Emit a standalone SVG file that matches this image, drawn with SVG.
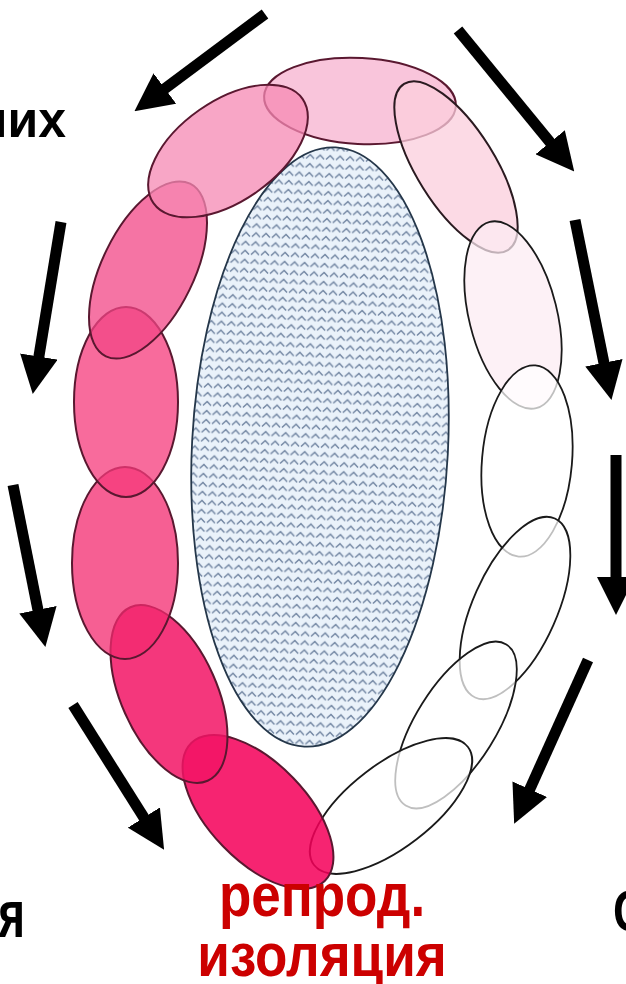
<svg xmlns="http://www.w3.org/2000/svg" width="626" height="984" viewBox="0 0 626 984">
<style>
.pk{stroke:#5a1830;stroke-width:2;fill-opacity:0.75}
.wh{fill:#ffffff;fill-opacity:0.72;stroke:#1a1a1a;stroke-width:1.8}
.arr{stroke:#000;stroke-width:11;fill:none;marker-end:url(#ah)}
.lbl{font-family:"Liberation Sans",Arial,sans-serif;font-weight:bold;fill:#000}
.red{font-family:"Liberation Sans",Arial,sans-serif;font-weight:bold;fill:#cc0000;font-size:53px}
</style>
<defs>
<marker id="ah" viewBox="0 0 38 38" refX="8" refY="19" markerWidth="38" markerHeight="38" markerUnits="userSpaceOnUse" orient="auto">
<path d="M0,0 L38,19 L0,38 Z" fill="#000"/>
</marker>
<pattern id="chev" width="10" height="9" patternUnits="userSpaceOnUse">
<rect width="10" height="9" fill="#eaf2fa"/>
<path d="M1,6.5 L5,2.5 L9,6.5" fill="none" stroke="#6f83a0" stroke-width="1.4"/>
</pattern>
</defs>
<rect width="626" height="984" fill="#fff"/>

<g id="center">
<ellipse cx="320" cy="447" rx="128" ry="300" transform="rotate(3 320 447)" fill="url(#chev)" stroke="#25374a" stroke-width="1.8"/>
</g>

<g id="e1"><ellipse class="pk" cx="360" cy="101" rx="96" ry="43" transform="rotate(3 360 101)" fill="#f7b2cf"/></g>
<g id="e2"><ellipse class="pk" cx="456" cy="167" rx="98" ry="39" transform="rotate(58 456 167)" fill="#fbcddc" style="stroke:#2a1a20"/></g>
<g id="e3"><ellipse class="wh" cx="513" cy="315" rx="96" ry="44" transform="rotate(76 513 315)" style="fill:#fcecf2"/></g>
<g id="e4"><ellipse class="wh" cx="527" cy="461" rx="96" ry="45" transform="rotate(95 527 461)"/></g>
<g id="e5"><ellipse class="wh" cx="515" cy="608" rx="98" ry="42" transform="rotate(114 515 608)"/></g>
<g id="e6"><ellipse class="wh" cx="456" cy="725" rx="95" ry="40" transform="rotate(122 456 725)"/></g>
<g id="e7"><ellipse class="wh" cx="391" cy="806" rx="97" ry="42" transform="rotate(142.5 391 806)"/></g>
<g id="e13"><ellipse class="pk" cx="258" cy="812" rx="96" ry="49" transform="rotate(46 258 812)" fill="#f4005a" style="fill-opacity:0.86"/></g>
<g id="e12"><ellipse class="pk" cx="169" cy="694" rx="95" ry="48" transform="rotate(66 169 694)" fill="#f21465" style="fill-opacity:0.85"/></g>
<g id="e11"><ellipse class="pk" cx="125" cy="563" rx="53" ry="96" fill="#f32a6f"/></g>
<g id="e10"><ellipse class="pk" cx="126" cy="402" rx="52" ry="95" fill="#f5397b"/></g>
<g id="e9"><ellipse class="pk" cx="148" cy="270" rx="96" ry="46" transform="rotate(116 148 270)" fill="#f24586"/></g>
<g id="e8"><ellipse class="pk" cx="228" cy="151" rx="91" ry="50" transform="rotate(-35 228 151)" fill="#f588b3"/></g>

<g id="connectors">
<line class="arr" x1="265" y1="14" x2="158.5" y2="93.3"/>
<line class="arr" x1="458" y1="30" x2="555.2" y2="148.4"/>
<line class="arr" x1="61" y1="222" x2="37.6" y2="364.4"/>
<line class="arr" x1="13" y1="485" x2="39.5" y2="617.6"/>
<line class="arr" x1="73" y1="705" x2="148.1" y2="824.3"/>
<line class="arr" x1="575" y1="220" x2="605.5" y2="370.6"/>
<line class="arr" x1="616" y1="455" x2="616" y2="585"/>
<line class="arr" x1="588" y1="660" x2="526.5" y2="796.5"/>
</g>

<g id="labels">
<text class="lbl" x="66" y="137" font-size="50" text-anchor="end">них</text>
<text class="lbl" transform="translate(25 937) scale(1 1.45)" font-size="46" text-anchor="end">я</text>
<text class="lbl" transform="translate(613 931) scale(1 1.25)" font-size="46">С</text>
<text class="red" transform="translate(322 916) scale(1 1.16)" text-anchor="middle">репрод.</text>
<text class="red" transform="translate(322 976) scale(1 1.16)" text-anchor="middle">изоляция</text>
</g>
</svg>
